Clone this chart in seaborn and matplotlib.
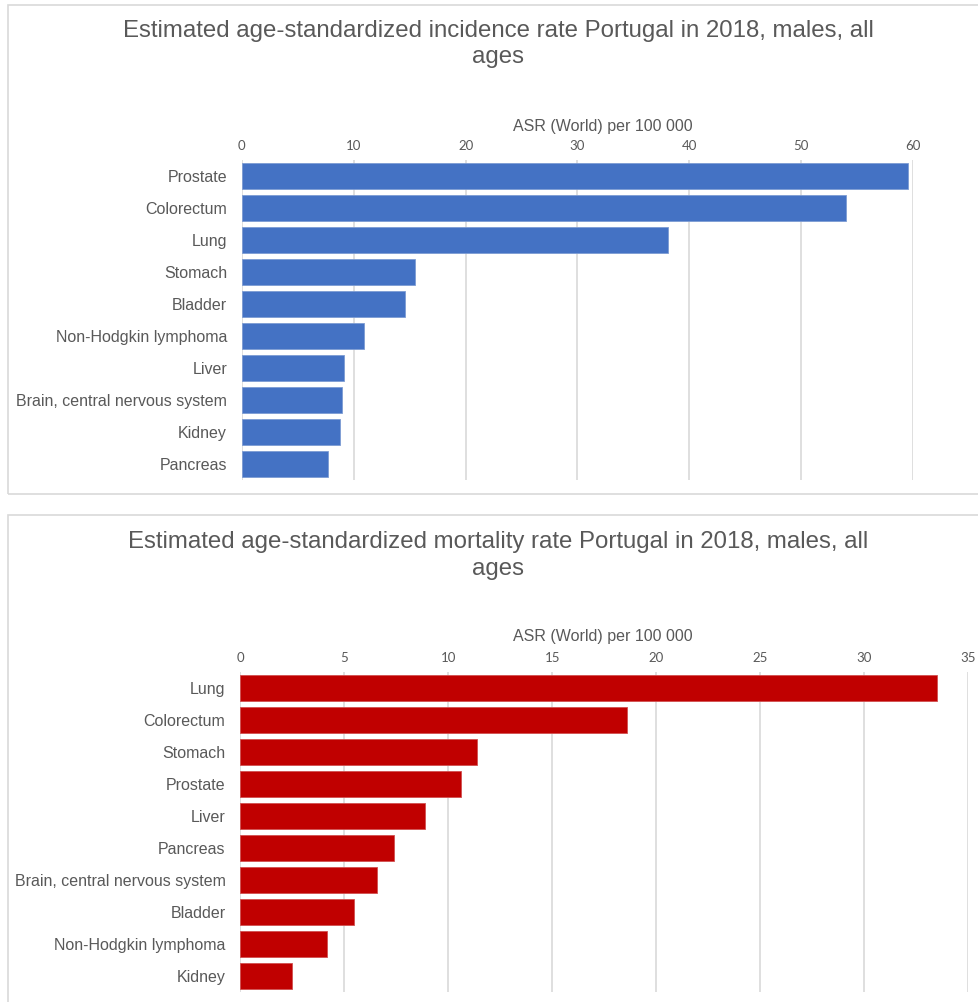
import matplotlib
matplotlib.use("Agg")
import matplotlib.pyplot as plt
import seaborn as sns
import pandas as pd
from matplotlib.patches import Rectangle

# ---- data ----
inc_sites = ["Prostate", "Colorectum", "Lung", "Stomach", "Bladder",
             "Non-Hodgkin lymphoma", "Liver", "Brain, central nervous system",
             "Kidney", "Pancreas"]
inc_values = [59.5, 54.0, 38.1, 15.5, 14.6, 10.9, 9.1, 9.0, 8.8, 7.7]
inc_ticks = [0, 10, 20, 30, 40, 50, 60]

mort_sites = ["Lung", "Colorectum", "Stomach", "Prostate", "Liver", "Pancreas",
              "Brain, central nervous system", "Bladder",
              "Non-Hodgkin lymphoma", "Kidney"]
mort_values = [33.5, 18.6, 11.4, 10.6, 8.9, 7.4, 6.6, 5.5, 4.2, 2.5]
mort_ticks = [0, 5, 10, 15, 20, 25, 30, 35]

title_inc = "Estimated age-standardized incidence rate Portugal in 2018, males, all\nages"
title_mort = "Estimated age-standardized mortality rate Portugal in 2018, males, all\nages"
xlabel = "ASR (World) per 100 000"

sns.set_theme(style="white")
plt.rcParams['font.family'] = ['Liberation Sans', 'DejaVu Sans']

W, H = 979, 1002
fig = plt.figure(figsize=(W / 100, H / 100), dpi=100)
fig.patch.set_facecolor("white")

GRAY = "#595959"
GRID = "#d9d9d9"


def fx(px):
    return px / W


def fy(py):
    return 1 - py / H


# panel boxes
for top, bottom in [(5, 494), (515, 1010)]:
    fig.patches.append(Rectangle((fx(8), fy(bottom)), fx(1000) - fx(8), fy(top) - fy(bottom),
                                 transform=fig.transFigure, fill=False,
                                 edgecolor=GRID, linewidth=1.2, zorder=0))


def panel(left, right, top, bottom, sites, values, ticks, color, title, t_y, lab_y):
    ax = fig.add_axes([fx(left), fy(bottom), fx(right) - fx(left), fy(top) - fy(bottom)])
    df = pd.DataFrame({"site": sites, "value": values})
    sns.barplot(data=df, x="value", y="site", orient="h", color=color,
                width=0.8, ax=ax, saturation=1, linewidth=0.6,
                edgecolor=sns.light_palette(color, 4)[2])
    ax.set_xlim(ticks[0], ticks[-1])
    ax.set_ylim(len(sites) - 0.5, -0.5)
    ax.set_xticks(ticks)
    ax.xaxis.tick_top()
    ax.tick_params(axis="x", length=0, pad=5.5, labelsize=9.5, labelcolor=GRAY)
    ax.tick_params(axis="y", length=0, pad=10.5, labelsize=11.5, labelcolor=GRAY)
    for lab in ax.get_xticklabels():
        lab.set_fontfamily(["Lato", "DejaVu Sans"])
    ax.grid(axis="x", color=GRID, linewidth=1.2)
    ax.set_axisbelow(True)
    for s in ax.spines.values():
        s.set_visible(False)
    ax.set_xlabel("")
    ax.set_ylabel("")
    fig.text(fx(603), fy(lab_y), xlabel, ha="center", va="center",
             fontsize=11.5, color=GRAY)
    fig.text(fx(498), fy(t_y), title, ha="center", va="center",
             fontsize=17.3, color=GRAY, linespacing=1.27)
    return ax


panel(241.7, 913.3, 160, 480, inc_sites, inc_values, inc_ticks, "#4472C4",
      title_inc, 44, 126)
panel(240, 968.3, 672, 992, mort_sites, mort_values, mort_ticks, "#C00000",
      title_mort, 555.5, 636)

fig.savefig("out.png", dpi=100, facecolor="white")
